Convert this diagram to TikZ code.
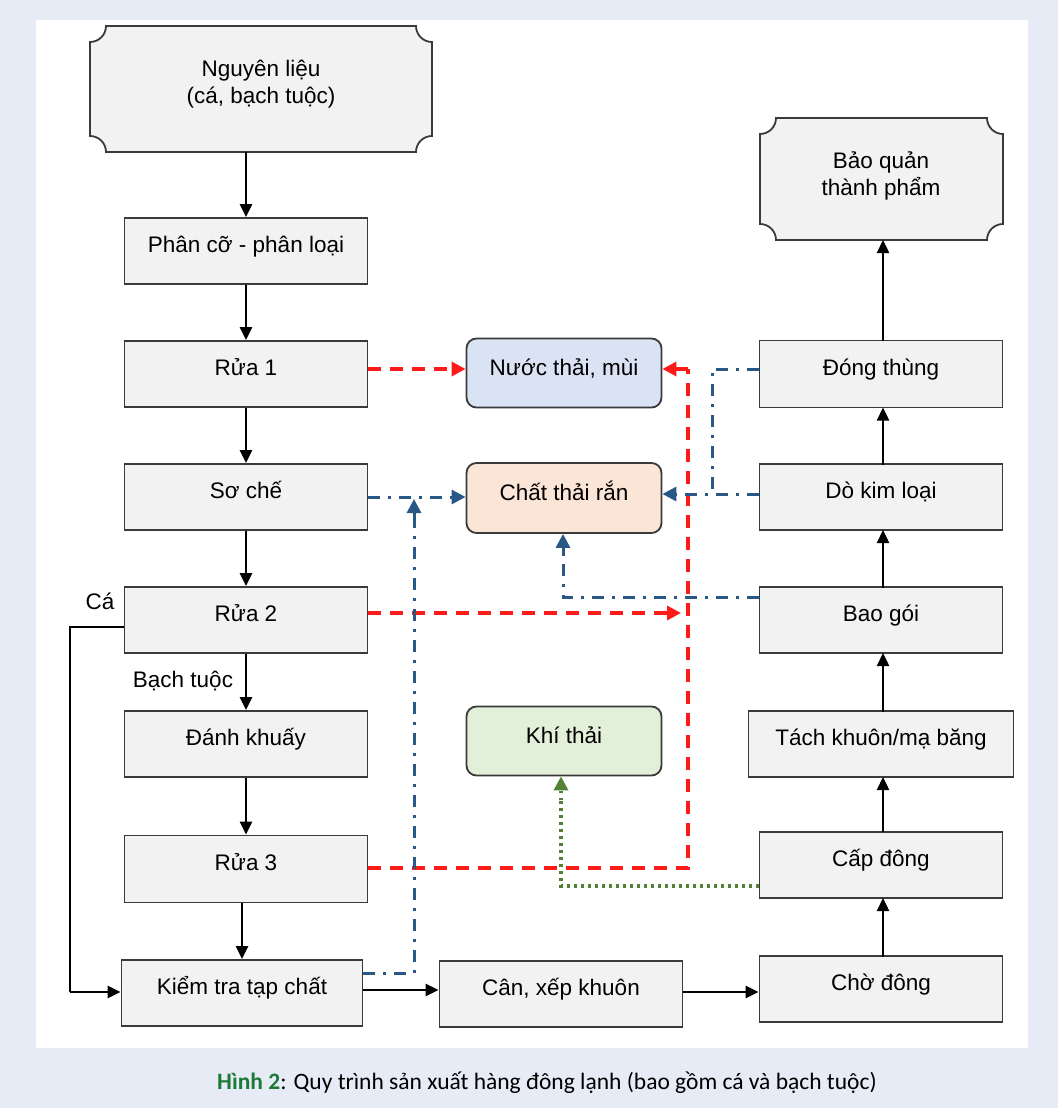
\documentclass[tikz,border=0pt]{standalone}
\usepackage{fontspec}
\setmainfont{Liberation Sans}
\newfontfamily\capfont{Carlito}
\usetikzlibrary{arrows.meta}
\definecolor{bglav}{HTML}{E7EBF6}
\definecolor{boxgray}{HTML}{F2F2F2}
\definecolor{wblue}{HTML}{DAE3F3}
\definecolor{worange}{HTML}{FBE5D6}
\definecolor{wgreen}{HTML}{E2F0D9}
\definecolor{dredline}{HTML}{FF1A1A}
\definecolor{dblueline}{HTML}{2A5886}
\definecolor{dgreenline}{HTML}{538135}
\definecolor{capgreen}{HTML}{1B7A35}
\definecolor{edgegray}{HTML}{3A3A3A}
\newcommand\bodyfont{\fontsize{22.5}{27}\selectfont}
\newcommand\plaqueshape[5]{% x0 y0 x1 y1 r
  \filldraw[draw=edgegray, fill=boxgray, line width=1.8pt]
    ({#1+#5},#2) -- ({#3-#5},#2)
    .. controls ({#3-#5},{#2+0.552*#5}) and ({#3-0.552*#5},{#2+#5}) .. (#3,{#2+#5})
    -- (#3,{#4-#5})
    .. controls ({#3-0.552*#5},{#4-#5}) and ({#3-#5},{#4-0.552*#5}) .. ({#3-#5},#4)
    -- ({#1+#5},#4)
    .. controls ({#1+#5},{#4-0.552*#5}) and ({#1+0.552*#5},{#4-#5}) .. (#1,{#4-#5})
    -- (#1,{#2+#5})
    .. controls ({#1+0.552*#5},{#2+#5}) and ({#1+#5},{#2+0.552*#5}) .. ({#1+#5},#2) -- cycle;}
\tikzset{
  box/.style={draw=edgegray, fill=boxgray, line width=1.8pt, minimum width=243pt,
    minimum height=66pt, inner sep=0pt, font=\bodyfont, align=center,
    text height=16pt, text depth=14pt},
  waste/.style={draw=edgegray, line width=1.8pt, rounded corners=10pt, minimum width=195pt,
    minimum height=69pt, inner sep=0pt, font=\bodyfont, text height=16pt, text depth=12pt},
  plaq/.style={minimum width=#1, inner sep=0pt, font=\bodyfont, align=center},
  flow/.style={line width=2.4pt, black, -{Triangle[length=13pt,width=12pt]}},
  flowline/.style={line width=2.4pt, black},
  redw/.style={line width=3.3pt, dredline, dash pattern=on 13pt off 9pt, -{Triangle[length=14pt,width=14pt]}},
  redl/.style={line width=3.3pt, dredline, dash pattern=on 13pt off 9pt},
  bluew/.style={line width=3pt, dblueline, dash pattern=on 12pt off 8pt on 3pt off 8pt, -{Triangle[length=14pt,width=14pt]}},
  bluel/.style={line width=3pt, dblueline, dash pattern=on 12pt off 8pt on 3pt off 8pt},
  greenw/.style={line width=3.3pt, dgreenline, dash pattern=on 2.5pt off 4.5pt, -{Triangle[length=14pt,width=14pt]}},
  lbl/.style={font=\bodyfont, inner sep=0pt},
}
\begin{document}
\begin{tikzpicture}[x=1pt, y=-1pt]
\useasboundingbox (0,0) rectangle (1058,1108);
\fill[bglav] (0,0) rectangle (1058,1108);
\fill[white] (36,20) rectangle (1028,1048);

% plaques
\plaqueshape{90}{26}{432}{152}{16}
\node[plaq=300pt] (raw) at (261,84) {Nguyên liệu\\(cá, bạch tuộc)};
\plaqueshape{760}{118}{1003}{240}{16}
\node[plaq=220pt] (store) at (881,176) {Bảo quản\\thành phẩm};
\path (246,152) coordinate (rawbot);
\path (883,240) coordinate (storebot);

% left column
\node[box] (sort) at (246,251) {Phân cỡ - phân loại};
\node[box] (w1) at (246,374) {Rửa 1};
\node[box] (prep) at (246,497) {Sơ chế};
\node[box] (w2) at (246,620) {Rửa 2};
\node[box] (stir) at (246,744) {Đánh khuấy};
\node[box, minimum height=67pt] (w3) at (246,869) {Rửa 3};
\node[box, minimum width=241pt] (chk) at (242,993) {Kiểm tra tạp chất};
\node[box] (weigh) at (561,994) {Cân, xếp khuôn};

% right column
\node[box] (wait) at (881,989) {Chờ đông};
\node[box] (frz) at (881,865) {Cấp đông};
\node[box, minimum width=265pt] (demold) at (881,744) {Tách khuôn/mạ băng};
\node[box] (pack) at (881,620) {Bao gói};
\node[box] (metal) at (881,497) {Dò kim loại};
\node[box, minimum height=67pt] (box) at (881,374) {Đóng thùng};

% waste nodes
\node[waste, fill=wblue] (water) at (564,373) {Nước thải, mùi};
\node[waste, fill=worange, minimum height=70pt] (solid) at (564,498) {Chất thải rắn};
\node[waste, fill=wgreen] (gas) at (564,741) {Khí thải};

% main flow arrows
\draw[flow] (rawbot) -- (sort.north);
\draw[flow] (sort) -- (w1);
\draw[flow] (w1) -- (prep);
\draw[flow] (prep) -- (w2);
\draw[flow] (w2) -- (stir);
\draw[flow] (stir) -- (w3);
\draw[flow] (w3.south -| 242,0) -- (chk.north);
\draw[flowline] (w2.west |- 0,627) -- (70,627) -- (70,992);
\draw[flow] (70,992) -- (chk.west |- 0,992);
\draw[flow] (chk.east |- 0,990) -- (weigh.west |- 0,990);
\draw[flow] (weigh.east |- 0,992) -- (wait.west |- 0,992);
\draw[flow] (883,957) -- (883,898);
\draw[flow] (883,832) -- (883,777);
\draw[flow] (883,712) -- (883,653);
\draw[flow] (883,588) -- (883,530);
\draw[flow] (883,465) -- (883,407.5);
\draw[flow] (883,340.5) -- (storebot);

\node[lbl] (laCa) at (100,601) {Cá};
\node[lbl] (laBT) at (183,681) {Bạch tuộc};

% red dashed: waste water
\draw[redw] (w1.east |- 0,369) -- (water.west |- 0,369);
\draw[redw] (w2.east |- 0,613) -- (681,613);
\draw[redl] (w3.east |- 0,868) -- (688,868) -- (688,369);
\draw[redw] (688,369) -- (water.east |- 0,369);

% blue dash-dot: solid waste
\draw[bluew] (prep.east |- 0,497) -- (solid.west |- 0,497);
\draw[bluel] (chk.east |- 0,973) -- (414,973) -- (414,520);
\draw[bluew] (414,520) -- (414,499);
\draw[bluel] (box.west |- 0,369) -- (712,369) -- (712,494);
\draw[bluew] (metal.west |- 0,494) -- (solid.east |- 0,494);
\draw[bluel] (pack.west |- 0,597) -- (563,597) -- (563,555);
\draw[bluew] (563,555) -- (solid.south -| 563,0);

% green dotted: gas
\draw[greenw, -] (frz.west |- 0,886) -- (561,886) -- (561,800);
\draw[greenw] (561,800) -- (gas.south -| 561,0);

% caption
\node[font=\capfont\fontsize{23.5}{28}\selectfont, inner sep=0pt] (cap) at (547,1083)
  {{\bfseries\color{capgreen}Hình 2}: Quy trình sản xuất hàng đông lạnh (bao gồm cá và bạch tuộc)};
\end{tikzpicture}
\end{document}
